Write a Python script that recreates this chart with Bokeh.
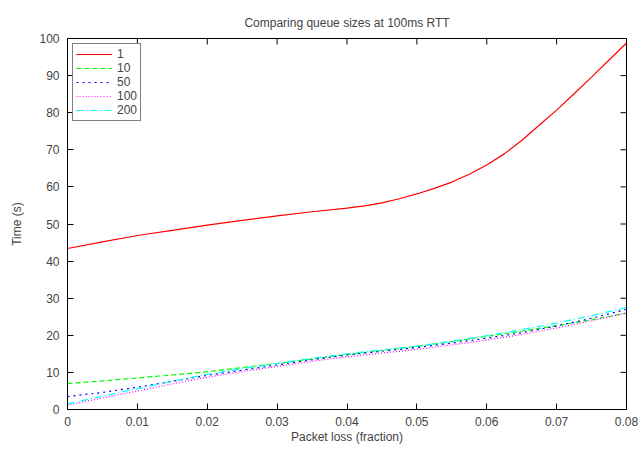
import math
from bokeh.plotting import figure
from bokeh.models import FixedTicker, Legend, LegendItem, Range1d
from bokeh.embed import file_html
from bokeh.resources import INLINE

loss = [0.0, 0.005, 0.01, 0.015, 0.02, 0.025, 0.03, 0.035, 0.04, 0.045,
        0.05, 0.055, 0.06, 0.065, 0.07, 0.075, 0.08]
loss_q1 = [0.0, 0.005, 0.01, 0.015, 0.02, 0.025, 0.03, 0.035, 0.04, 0.0425, 0.045, 0.0475,
           0.05, 0.0525, 0.055, 0.0575, 0.06, 0.0625, 0.065, 0.0675, 0.07, 0.0725, 0.075, 0.0775, 0.08]
q1 = [43.4, 45.2, 46.9, 48.3, 49.7, 51.0, 52.2, 53.3, 54.3, 54.9, 55.7, 56.8,
      58.1, 59.6, 61.3, 63.4, 65.9, 68.9, 72.5, 76.6, 80.7, 85.1, 89.6, 94.2, 98.8]
q10 = [7.0, 7.7, 8.5, 9.3, 10.2, 11.3, 12.4, 13.6, 14.8, 15.9, 17.0, 18.3, 19.7, 21.1, 22.6, 24.2, 26.0]
q50 = [3.5, 4.6, 6.0, 7.6, 9.2, 10.6, 12.0, 13.4, 14.7, 15.7, 16.7, 17.9, 19.2, 20.7, 22.5, 24.6, 27.0]
q100 = [1.2, 3.1, 5.0, 6.9, 8.7, 10.2, 11.6, 13.0, 14.2, 15.2, 16.2, 17.4, 18.7, 20.2, 22.0, 23.9, 26.0]
q200 = [1.5, 3.6, 5.6, 7.6, 9.5, 11.0, 12.4, 13.8, 15.0, 16.1, 17.1, 18.4, 19.9, 21.5, 23.3, 25.3, 27.5]

labels = ["1", "10", "50", "100", "200"]
x_ticks = [0, 0.01, 0.02, 0.03, 0.04, 0.05, 0.06, 0.07, 0.08]
y_ticks = [0, 10, 20, 30, 40, 50, 60, 70, 80, 90, 100]
X_MIN, X_MAX, Y_MIN, Y_MAX = 0, 0.08, 0, 100

FONT = "Liberation Sans"

p = figure(width=639, height=449, output_backend="svg", toolbar_location=None,
           x_range=Range1d(X_MIN, X_MAX), y_range=Range1d(Y_MIN, Y_MAX),
           x_axis_label="Packet loss (fraction)", y_axis_label="Time (s)",
           min_border_left=67, min_border_right=13, min_border_top=38, min_border_bottom=40)

p.title.text = "Comparing queue sizes at 100ms RTT"
p.title.align = "center"
p.title.text_font = FONT
p.title.text_font_size = "12px"
p.title.text_font_style = "normal"
p.title.offset = 0
p.title.standoff = 18

p.xgrid.visible = False
p.ygrid.visible = False
p.outline_line_color = "black"
p.outline_line_width = 1

for ax, ticks in ((p.xaxis[0], x_ticks), (p.yaxis[0], y_ticks)):
    ax.ticker = FixedTicker(ticks=ticks)
    ax.major_tick_in = 6
    ax.major_tick_out = 0
    ax.minor_tick_line_color = None
    ax.major_label_text_font = FONT
    ax.major_label_text_font_size = "12px"
    ax.major_label_standoff = 8
    ax.axis_label_text_font = FONT
    ax.axis_label_text_font_size = "12px"
    ax.axis_label_text_font_style = "normal"
    ax.axis_line_color = "black"
p.xaxis[0].major_label_overrides = {0: "0"}
p.xaxis[0].axis_label_standoff = 1
p.xaxis[0].major_label_standoff = 7
p.yaxis[0].axis_label_standoff = 12

# mirrored tick marks on the top and right edges
p.ray(x=x_ticks, y=Y_MAX, length=6, length_units="screen", angle=-math.pi / 2,
      line_color="black", line_width=1)
p.ray(x=X_MAX, y=y_ticks, length=6, length_units="screen", angle=math.pi,
      line_color="black", line_width=1)

series = [(loss_q1, q1), (loss, q10), (loss, q50), (loss, q100), (loss, q200)]
colors = ["#ff0000", "#00ff00", "#0000ff", "#ff00ff", "#00ffff"]
dashes = ["solid", "5 3", "2 4", "1 2", "7 3 1 3"]
items = []
for lab, (xs, ys), c, d in zip(labels, series, colors, dashes):
    r = p.line(xs, ys, line_color=c, line_width=1.2, line_dash=d)
    items.append(LegendItem(label=lab, renderers=[r]))

legend = Legend(items=items, location="top_left")
legend.border_line_color = "black"
legend.border_line_width = 1
legend.background_fill_alpha = 1
legend.label_text_font = FONT
legend.label_text_font_size = "12px"
legend.label_height = 10
legend.glyph_height = 10
legend.glyph_width = 36
legend.spacing = 0
legend.padding = 3
legend.margin = 5
p.add_layout(legend)

open("out.html", "w").write(file_html(p, INLINE))
